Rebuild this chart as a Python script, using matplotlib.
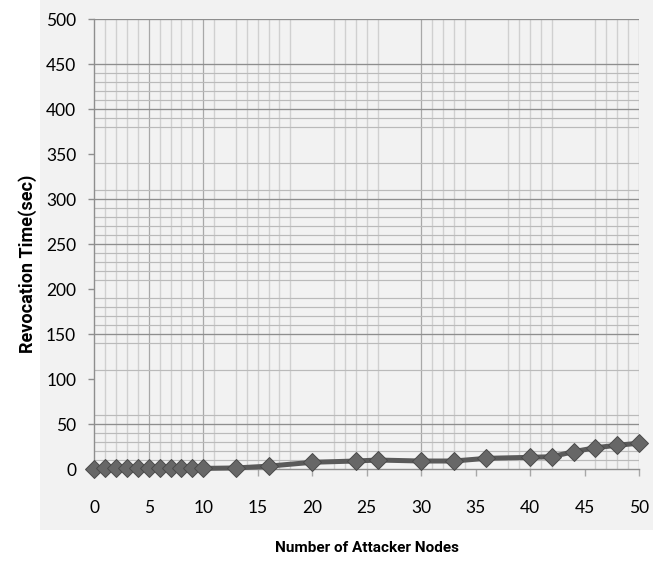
import matplotlib
matplotlib.use("Agg")
import matplotlib.pyplot as plt
from matplotlib.patches import Rectangle

# ---- data ----
attacker_nodes = [0, 1, 2, 3, 4, 5, 6, 7, 8, 9, 10, 13, 16, 20, 24, 26,
                  30, 33, 36, 40, 42, 44, 46, 48, 50]
revocation_time = [0.5, 1, 1, 1, 1, 1, 1, 1, 1, 1, 1, 1.5, 3.5, 7.8, 9.2, 10.3,
                   9.2, 9.2, 12.2, 13.3, 14, 19.6, 24, 26.7, 29]
x_ticks = [0, 5, 10, 15, 20, 25, 30, 35, 40, 45, 50]
y_ticks = [0, 50, 100, 150, 200, 250, 300, 350, 400, 450, 500]
x_label = "Number of Attacker Nodes"
y_label = "Revocation Time(sec)"

# gridlines as they appear in the reference picture
vgrid_minor = [1, 2, 3, 4, 6, 7, 8, 9, 11, 13, 14, 15, 16, 17, 18, 22, 23, 24, 25, 26,
               31, 32, 33, 34, 38, 39, 40, 41, 42, 46, 47, 48, 49]
vgrid_major = [5, 10, 30, 50]
hgrid_minor = [440, 430, 420, 410, 390, 380, 340, 310, 290, 280, 270, 260, 240, 230,
               220, 210, 190, 180, 170, 160, 140, 110, 60, 40, 30, 20, 10]
hgrid_major = [500, 450, 400, 300, 250, 150, 50]

W, H = 653, 567
fig = plt.figure(figsize=(W / 100, H / 100), dpi=100)
fig.patch.set_facecolor("white")

# grey chart panel
panel = Rectangle((40 / W, 1 - 530 / H), 1 - 40 / W, 530 / H,
                  transform=fig.transFigure, facecolor="#f2f2f2",
                  edgecolor="none", zorder=-10)
fig.patches.append(panel)

left, right = 94.3 / W, 639 / W
bottom, top = 1 - 469.3 / H, 1 - 19.3 / H
ax = fig.add_axes([left, bottom, right - left, top - bottom], zorder=1)
ax.set_facecolor("#f2f2f2")
ax.set_xlim(0, 50)
ax.set_ylim(0, 500)

for v in vgrid_minor:
    ax.axvline(v, color="#d0d0d0", lw=1.0, zorder=1)
for v in vgrid_major:
    ax.axvline(v, color="#a8a8a8", lw=0.9, zorder=1)
for h in hgrid_minor:
    ax.axhline(h, color="#bababa", lw=0.85, zorder=1)
for h in hgrid_major:
    ax.axhline(h, color="#8e8e8e", lw=0.95, zorder=1)

for s in ["top", "right"]:
    ax.spines[s].set_visible(False)
for s in ["left", "bottom"]:
    ax.spines[s].set_color("#8e8e8e")
    ax.spines[s].set_linewidth(1.0)

ax.plot(attacker_nodes, revocation_time, color="#5a5a5a", lw=3.6,
        marker="D", markersize=9.5, markerfacecolor="#676767",
        markeredgecolor="#4a4a4a", markeredgewidth=0.7, clip_on=False, zorder=5)

tick_font = ["Lato", "DejaVu Sans"]
label_font = ["Roboto", "DejaVu Sans"]
ax.set_xticks(x_ticks)
ax.set_yticks(y_ticks)
ax.set_xticklabels([str(t) for t in x_ticks], fontsize=12.5, family=tick_font)
ax.set_yticklabels([str(t) for t in y_ticks], fontsize=12.5, family=tick_font)
ax.tick_params(axis="x", length=5, width=1.0, color="#a8a8a8", pad=17)
ax.tick_params(axis="y", length=4, width=1.0, color="#8e8e8e", pad=9)

fig.text((left + right) / 2, 1 - 548 / H, x_label, ha="center", va="center",
         fontsize=11, fontweight="bold", family=label_font)
fig.text(28 / W, 1 - 264 / H, y_label, ha="center", va="center",
         rotation=90, fontsize=13, fontweight="bold", family=label_font)

fig.savefig("out.png", dpi=100, facecolor="white")
